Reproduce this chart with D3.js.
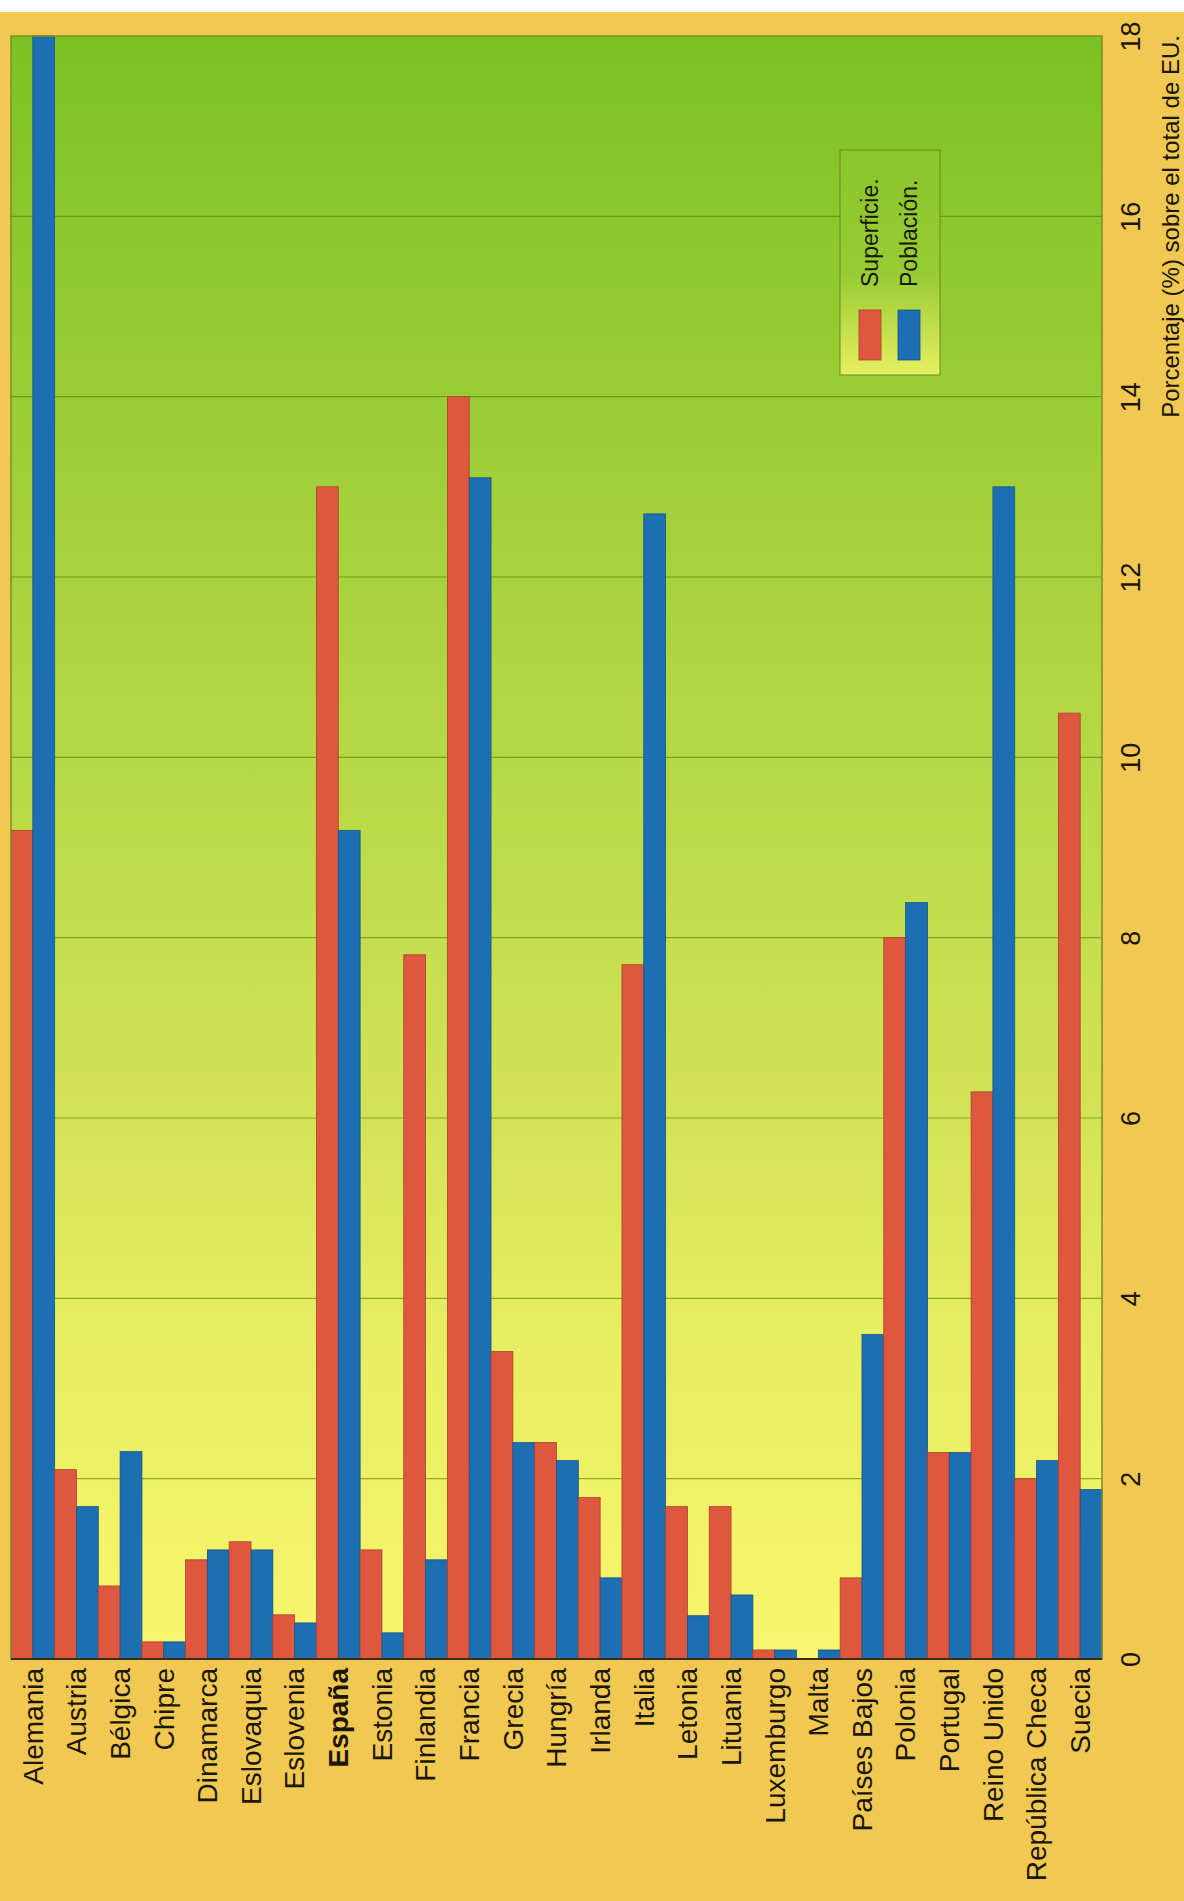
<!DOCTYPE html>
<html>
<head>
<meta charset="utf-8">
<script src="https://cdn.jsdelivr.net/npm/d3@7"></script>
<style>
  html, body { margin: 0; padding: 0; background: #ffffff; }
  svg { display: block; }
  text { font-family: "Liberation Sans", Arial, sans-serif; fill: #1b1608; }
</style>
</head>
<body>
<svg id="chart" width="1184" height="1901"></svg>
<script>
// Países de la UE y su peso (%) en superficie y población
const paises = ["Alemania","Austria","Bélgica","Chipre","Dinamarca","Eslovaquia","Eslovenia","España","Estonia","Finlandia","Francia","Grecia","Hungría","Irlanda","Italia","Letonia","Lituania","Luxemburgo","Malta","Países Bajos","Polonia","Portugal","Reino Unido","República Checa","Suecia"];
const superficie = [9.19, 2.10, 0.81, 0.19, 1.10, 1.30, 0.49, 13.0, 1.21, 7.81, 14.0, 3.41, 2.40, 1.79, 7.70, 1.69, 1.69, 0.10, 0.0, 0.90, 8.0, 2.29, 6.29, 2.0, 10.49];
const poblacion = [18.0, 1.69, 2.30, 0.19, 1.21, 1.21, 0.40, 9.19, 0.29, 1.10, 13.10, 2.40, 2.20, 0.90, 12.70, 0.48, 0.71, 0.10, 0.10, 3.60, 8.39, 2.29, 13.0, 2.20, 1.88];
const series = ["Superficie.", "Población."];
const colores = ["#e0573f", "#1d6fb1"];
const bordes = ["#a9422d", "#14558a"];
const marcas = [0, 2, 4, 6, 8, 10, 12, 14, 16, 18];
const tituloEje = "Porcentaje (%) sobre el total de EU.";

const svg = d3.select("#chart");
const W = 1184, H = 1901;
const plot = { left: 11, right: 1102, top: 36, bottom: 1659 };

// fondo general
svg.append("rect").attr("x", 0).attr("y", 12).attr("width", W).attr("height", H - 12).attr("fill", "#f1c952");

const defs = svg.append("defs");
const grad = defs.append("linearGradient").attr("id", "fondoPlot")
  .attr("x1", 0).attr("y1", 0).attr("x2", 0).attr("y2", 1);
[[0, "#7dc224"], [0.16, "#92ca30"], [0.29, "#a3d03a"], [0.47, "#b9da46"], [0.66, "#d3e356"], [0.8, "#e7ed60"], [1, "#f8f66e"]]
  .forEach(([o, c]) => grad.append("stop").attr("offset", o).attr("stop-color", c));

const gradLey = defs.append("linearGradient").attr("id", "fondoLeyenda")
  .attr("x1", 0).attr("y1", 0).attr("x2", 0).attr("y2", 1);
[[0, "#8ac62b"], [0.55, "#97cc33"], [1, "#e7ef5f"]]
  .forEach(([o, c]) => gradLey.append("stop").attr("offset", o).attr("stop-color", c));

// escalas
const x = d3.scaleBand().domain(paises).range([plot.left, plot.right]).padding(0);
const xs = d3.scaleBand().domain(series).range([0, x.bandwidth()]).padding(0);
const y = d3.scaleLinear().domain([0, 18]).range([plot.bottom, plot.top]);

// área del gráfico
svg.append("rect")
  .attr("x", plot.left).attr("y", plot.top)
  .attr("width", plot.right - plot.left).attr("height", plot.bottom - plot.top)
  .attr("fill", "url(#fondoPlot)");

// líneas de rejilla
svg.append("g").selectAll("line").data(marcas.filter(d => d > 0 && d < 18)).join("line")
  .attr("x1", plot.left).attr("x2", plot.right)
  .attr("y1", d => y(d)).attr("y2", d => y(d))
  .attr("stroke", "#55780c").attr("stroke-opacity", 0.6).attr("stroke-width", 1.2);

// barras
const filas = paises.map((p, i) => ({ pais: p, valores: [superficie[i], poblacion[i]] }));
const grupos = svg.append("g").selectAll("g").data(filas).join("g")
  .attr("transform", d => `translate(${x(d.pais)},0)`);
grupos.selectAll("rect").data(d => d.valores.map((v, k) => ({ v, k }))).join("rect")
  .attr("x", d => xs(series[d.k]))
  .attr("y", d => y(d.v))
  .attr("width", xs.bandwidth())
  .attr("height", d => y(0) - y(d.v))
  .attr("fill", d => colores[d.k])
  .attr("stroke", d => bordes[d.k])
  .attr("stroke-width", 0.8);

// marco
svg.append("rect")
  .attr("x", plot.left).attr("y", plot.top)
  .attr("width", plot.right - plot.left).attr("height", plot.bottom - plot.top)
  .attr("fill", "none").attr("stroke", "#7d8d22").attr("stroke-width", 1.5);

// eje de categorías (línea base)
svg.append("line")
  .attr("x1", plot.left).attr("x2", plot.right)
  .attr("y1", y(0)).attr("y2", y(0))
  .attr("stroke", "#3a2c16").attr("stroke-width", 2);

// etiquetas de países, giradas
svg.append("g").selectAll("text").data(paises).join("text")
  .attr("transform", d => `translate(${x(d) + x.bandwidth() / 2},${plot.bottom + 9}) rotate(-90)`)
  .attr("text-anchor", "end")
  .attr("dy", "0.35em")
  .attr("font-size", 28)
  .attr("font-weight", d => d === "España" ? "bold" : "normal")
  .text(d => d);

// eje de valores a la derecha, con rótulos girados
const eje = d3.axisRight(y).tickValues(marcas).tickSize(0).tickPadding(0).tickFormat(d3.format("d"));
const gEje = svg.append("g").attr("transform", "translate(1131,0)").call(eje);
gEje.select(".domain").remove();
gEje.selectAll("text")
  .attr("x", 0).attr("dy", "0.35em")
  .attr("text-anchor", "middle")
  .attr("font-size", 27)
  .attr("font-family", "'Liberation Sans', Arial, sans-serif")
  .attr("fill", "#1b1608")
  .attr("transform", "rotate(-90)");

// título del eje
svg.append("text")
  .attr("transform", "translate(1171,35) rotate(-90)")
  .attr("text-anchor", "end")
  .attr("dy", "0.35em")
  .attr("font-size", 24)
  .text(tituloEje);

// leyenda
const ley = svg.append("g");
ley.append("rect").attr("x", 840).attr("y", 150).attr("width", 100).attr("height", 225)
  .attr("fill", "url(#fondoLeyenda)").attr("stroke", "#6d8a1c").attr("stroke-width", 1);
series.forEach((s, k) => {
  const cx = 870 + k * 39;
  ley.append("rect").attr("x", cx - 11).attr("y", 310).attr("width", 22).attr("height", 50)
    .attr("fill", colores[k]).attr("stroke", bordes[k]).attr("stroke-width", 0.8);
  ley.append("text")
    .attr("transform", `translate(${cx},287) rotate(-90)`)
    .attr("dy", "0.35em")
    .attr("font-size", 23)
    .text(s);
});
</script>
</body>
</html>
